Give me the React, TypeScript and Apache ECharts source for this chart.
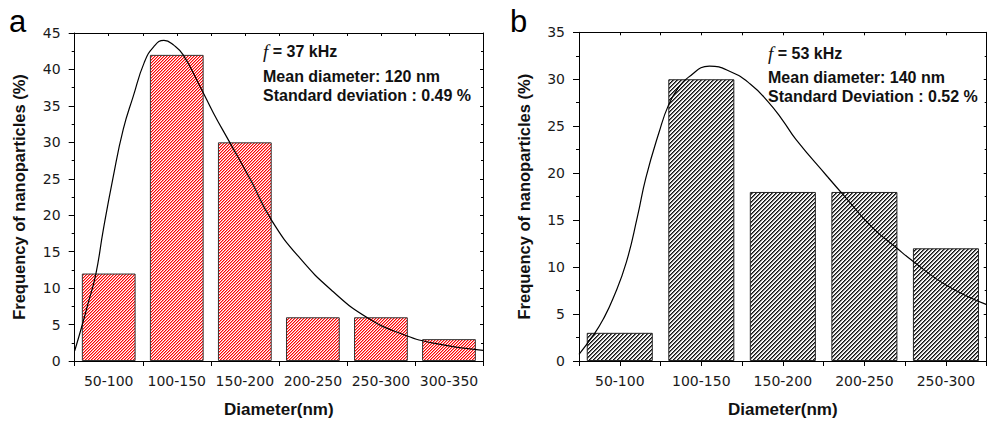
import React, { useEffect, useRef } from "react";
import * as echarts from "echarts";

// ---------- data ----------
const CATS_A = ["50-100", "100-150", "150-200", "200-250", "250-300", "300-350"];
const FREQ_A = [12, 42, 30, 6, 6, 3];
const CATS_B = ["50-100", "100-150", "150-200", "200-250", "250-300"];
const FREQ_B = [3, 30, 18, 18, 12];

// fitted curves: [diameter (nm), frequency (%)]
const FIT_A: [number, number][] = [
  [50, 1.4], [55, 4.6], [60, 8.0], [65.6, 12], [71, 18], [78, 25], [85.7, 31.8],
  [93, 36.3], [101, 40.9], [108, 43.1], [115.6, 44], [123, 43.3], [129.7, 42],
  [142, 37.7], [152, 34], [163.6, 30.1], [178.8, 25], [194.7, 19.3], [215.5, 14.1],
  [240, 9.5], [264.5, 6], [289, 3.8], [313.5, 2.45], [350, 1.45],
];
const FIT_B: [number, number][] = [
  [50, 0.7], [59, 2.8], [65, 4.5], [71, 6.7], [79, 10.5], [86, 15.5], [91, 19.5],
  [99, 24.3], [105, 27.3], [111, 29.1], [117, 30.2], [130, 31.4], [143, 30.8],
  [155, 29.5], [166, 27.6], [175, 25.6], [183, 23.6], [202, 19.7], [213, 17.5],
  [230, 14.2], [245, 12], [255, 10.6], [275, 8.1], [300, 6],
];

const Y_MAX_A = 45;
const Y_MAX_B = 35;
const Y_STEP = 5;
const X_MIN_A = 50, X_MAX_A = 350;
const X_MIN_B = 50, X_MAX_B = 300;

const TITLE_X = "Diameter(nm)";
const TITLE_Y = "Frequency of nanoparticles (%)";
const NOTE_A = ["37 kHz", "Mean diameter: 120 nm", "Standard deviation : 0.49 %"];
const NOTE_B = ["53 kHz", "Mean diameter: 140 nm", "Standard Deviation : 0.52 %"];

function hatch(colors: string[]) {
  const n = colors.length;
  const c = document.createElement("canvas");
  c.width = n;
  c.height = n;
  const ctx = c.getContext("2d")!;
  for (let x = 0; x < n; x++) {
    for (let y = 0; y < n; y++) {
      ctx.fillStyle = colors[(x + y) % n];
      ctx.fillRect(x, y, 1, 1);
    }
  }
  return c;
}

const LABEL_FONT = "DejaVu Sans";
const BOLD_FONT = "Liberation Sans";

function catAxis(gridIndex: number, data: string[]) {
  return {
    type: "category",
    gridIndex,
    data,
    position: "bottom",
    axisLine: { show: true, lineStyle: { color: "#000", width: 1 } },
    axisTick: { show: false },
    axisLabel: { interval: 0, fontFamily: LABEL_FONT, fontSize: 14, color: "#1a1a1a", margin: 13 },
    name: TITLE_X,
    nameLocation: "middle",
    nameGap: 40,
    nameTextStyle: { fontFamily: BOLD_FONT, fontWeight: "bold", fontSize: 17, color: "#111" },
  };
}
function valXAxis(gridIndex: number, min: number, max: number, interval: number, top: boolean) {
  return {
    type: "value",
    gridIndex,
    min,
    max,
    interval,
    position: top ? "top" : "bottom",
    axisLine: { show: top, lineStyle: { color: "#000", width: 1 } },
    axisTick: { show: true, inside: top, length: top ? 3 : 5, lineStyle: { color: "#000" } },
    axisLabel: { show: false },
    splitLine: { show: false },
  };
}
function yAx(gridIndex: number, max: number, right: boolean) {
  return {
    type: "value",
    gridIndex,
    min: 0,
    max,
    interval: Y_STEP,
    position: right ? "right" : "left",
    axisLine: { show: true, lineStyle: { color: "#000", width: 1 } },
    axisTick: { show: true, inside: right, length: right ? 3 : 6, lineStyle: { color: "#000" } },
    minorTick: { show: true, splitNumber: 2, length: right ? 2 : 3, lineStyle: { color: "#000" } },
    splitLine: { show: false },
    axisLabel: right
      ? { show: false }
      : { fontFamily: LABEL_FONT, fontSize: 14, color: "#1a1a1a", margin: 14 },
    name: right ? "" : TITLE_Y,
    nameLocation: "middle",
    nameGap: 47,
    nameTextStyle: { fontFamily: BOLD_FONT, fontWeight: "bold", fontSize: 16.5, color: "#111" },
  };
}

function note(x: number, ys: number[], lines: string[]) {
  const st = (text: string, y: number, rich?: any) => ({
    type: "text",
    x,
    y,
    style: {
      text,
      fontFamily: BOLD_FONT,
      fontWeight: "bold",
      fontSize: 16,
      fill: "#111",
      verticalAlign: "middle",
      align: "left",
      rich,
    },
  });
  return [
    st("{it|f} = " + lines[0], ys[0], {
      it: { fontFamily: "Liberation Serif", fontStyle: "italic", fontSize: 19, fill: "#111", fontWeight: "normal" },
    }),
    st(lines[1], ys[1]),
    st(lines[2], ys[2]),
  ];
}

function curve(xAxisIndex: number, yAxisIndex: number, data: [number, number][]) {
  return {
    type: "line",
    xAxisIndex,
    yAxisIndex,
    data,
    smooth: 0.5,
    showSymbol: false,
    lineStyle: { color: "#000", width: 1.2 },
    z: 5,
  };
}

export default function App() {
  const ref = useRef<HTMLDivElement>(null);
  useEffect(() => {
    if (!ref.current) return;
    const chart = echarts.init(ref.current, undefined, { renderer: "svg" });
    const redHatch = hatch(["#ff0000", "#ff8a8a", "#ffffff"]);
    const blackHatch = hatch(["#111111", "#666666", "#e6e6e6", "#ffffff"]);
    chart.setOption({
      animation: false,
      backgroundColor: "#fff",
      grid: [
        { left: 74.7, top: 33, width: 408.3, height: 330 },
        { left: 579, top: 32.3, width: 407.7, height: 331 },
      ],
      xAxis: [
        catAxis(0, CATS_A),
        valXAxis(0, X_MIN_A, X_MAX_A, 50, false),
        valXAxis(0, X_MIN_A, X_MAX_A, 25, true),
        catAxis(1, CATS_B),
        valXAxis(1, X_MIN_B, X_MAX_B, 25, false),
        valXAxis(1, X_MIN_B, X_MAX_B, 25, true),
      ],
      yAxis: [yAx(0, Y_MAX_A, false), yAx(0, Y_MAX_A, true), yAx(1, Y_MAX_B, false), yAx(1, Y_MAX_B, true)],
      series: [
        {
          type: "bar",
          xAxisIndex: 0,
          yAxisIndex: 0,
          data: FREQ_A,
          barCategoryGap: "21%",
          itemStyle: { color: { image: redHatch, repeat: "repeat" }, borderColor: "#333", borderWidth: 1 },
        },
        curve(1, 0, FIT_A),
        {
          type: "bar",
          xAxisIndex: 3,
          yAxisIndex: 2,
          data: FREQ_B,
          barCategoryGap: "19%",
          itemStyle: { color: { image: blackHatch, repeat: "repeat" }, borderColor: "#222", borderWidth: 1 },
        },
        curve(4, 2, FIT_B),
      ],
      graphic: [
        { type: "text", x: 9, y: 21.3, style: { text: "a", fontFamily: BOLD_FONT, fontSize: 31, fill: "#000", verticalAlign: "middle" } },
        { type: "text", x: 510, y: 21.3, style: { text: "b", fontFamily: BOLD_FONT, fontSize: 31, fill: "#000", verticalAlign: "middle" } },
        ...note(263, [51.8, 76.8, 95.2], NOTE_A),
        ...note(768, [53.3, 77.2, 96.2], NOTE_B),
      ],
    });
    return () => chart.dispose();
  }, []);
  return (
    <div
      ref={ref}
      style={{ position: "fixed", left: 0, top: 0, width: 987, height: 423, background: "#fff" }}
    />
  );
}
